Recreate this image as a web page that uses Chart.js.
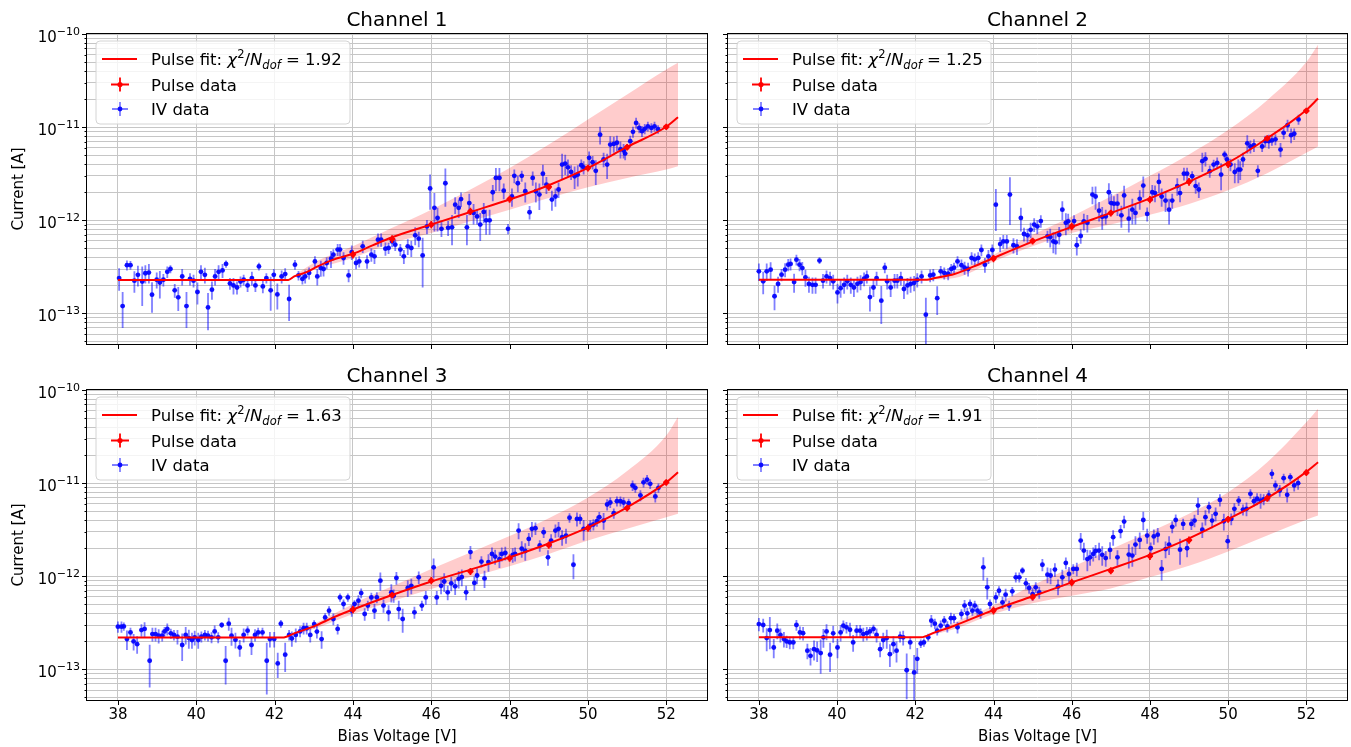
<!DOCTYPE html>
<html>
<head>
<meta charset="utf-8">
<script src="https://cdn.jsdelivr.net/npm/chart.js@4.4.1/dist/chart.umd.min.js"></script>
<style>
  body { margin: 0; background: #fff; width: 1351px; height: 747px; overflow: hidden; position: relative; }
  canvas { position: absolute; }
</style>
</head>
<body>
<canvas id="ch1" width="717" height="355" style="left:0;top:0"></canvas>
<canvas id="ch2" width="634" height="355" style="left:717px;top:0"></canvas>
<canvas id="ch3" width="717" height="392" style="left:0;top:355px"></canvas>
<canvas id="ch4" width="634" height="392" style="left:717px;top:355px"></canvas>
<script>
// currents below are in pA, converted to A when the datasets are built
const PA = 1e-12;

const channelNames = ['Channel 1', 'Channel 2', 'Channel 3', 'Channel 4'];
const chiSquare = ['1.92', '1.25', '1.63', '1.91'];
const xTickValues = [38, 40, 42, 44, 46, 48, 50, 52];
const yTickMantissas = [1, 2, 3, 4, 5, 6, 7, 8, 9];
const yTickExponents = [-14, -13, -12, -11];
const yLabelExponents = [-13, -12, -11, -10];
const xMin = 37.21, xMax = 53.04;
const yMin = 4.7e-14, yMax = 1e-10;

const pulseVoltage = [44, 45, 46, 47, 48, 49, 50, 51, 52];

// ---- Channel 1 ----
const ch1IvVoltage = [
  38.03, 38.12, 38.23, 38.32, 38.42, 38.51, 38.62, 38.70, 38.79, 38.87,
  38.99, 39.07, 39.16, 39.26, 39.34, 39.45, 39.54, 39.64, 39.75, 39.84,
  39.93, 40.03, 40.12, 40.22, 40.30, 40.40, 40.48, 40.57, 40.67, 40.76,
  40.86, 40.95, 41.04, 41.13, 41.21, 41.31, 41.42, 41.51, 41.60, 41.70,
  41.79, 41.90, 41.98, 42.07, 42.18, 42.27, 42.37, 42.52, 42.61, 42.71,
  42.78, 42.88, 43.03, 43.09, 43.18, 43.25, 43.33, 43.44, 43.50, 43.61,
  43.67, 43.76, 43.89, 43.97, 44.08, 44.16, 44.25, 44.36, 44.47, 44.55,
  44.64, 44.72, 44.83, 44.91, 45.00, 45.08, 45.21, 45.30, 45.40, 45.49,
  45.59, 45.68, 45.78, 45.89, 45.97, 46.08, 46.16, 46.26, 46.36, 46.43,
  46.53, 46.61, 46.70, 46.76, 46.91, 46.97, 47.08, 47.17, 47.25, 47.34,
  47.40, 47.49, 47.57, 47.65, 47.74, 47.85, 47.96, 48.06, 48.12, 48.21,
  48.31, 48.40, 48.51, 48.59, 48.67, 48.76, 48.85, 48.94, 49.08, 49.17,
  49.25, 49.34, 49.42, 49.49, 49.57, 49.66, 49.74, 49.83, 49.89, 50.03,
  50.12, 50.20, 50.31, 50.40, 50.49, 50.57, 50.66, 50.74, 50.83, 50.91,
  50.95, 51.08, 51.15, 51.23, 51.31, 51.38, 51.45, 51.53, 51.62, 51.70,
  51.79
];
const ch1IvCurrent = [
  0.24, 0.12, 0.33, 0.33, 0.225, 0.26, 0.22, 0.27, 0.275, 0.159,
  0.23, 0.215, 0.23, 0.28, 0.30, 0.177, 0.149, 0.25, 0.12, 0.235,
  0.225, 0.17, 0.28, 0.26, 0.116, 0.18, 0.25, 0.28, 0.29, 0.34,
  0.21, 0.20, 0.19, 0.22, 0.23, 0.20, 0.24, 0.20, 0.32, 0.195,
  0.24, 0.177, 0.26, 0.16, 0.25, 0.265, 0.143, 0.334, 0.256, 0.235,
  0.25, 0.272, 0.362, 0.25, 0.307, 0.30, 0.348, 0.387, 0.428, 0.485,
  0.485, 0.394, 0.256, 0.456, 0.348, 0.362, 0.525, 0.362, 0.428, 0.41,
  0.62, 0.62, 0.496, 0.504, 0.594, 0.547, 0.485, 0.41, 0.525, 0.504,
  0.69, 0.635, 0.42, 0.86, 2.2, 1.36, 1.06, 0.81, 2.5, 0.83,
  0.84, 1.47, 1.36, 1.69, 0.84, 1.53, 1.2, 1.1, 0.9, 1.23,
  1.0, 1.0, 2.0, 2.85, 2.85, 2.08, 0.81, 1.8, 3.0, 2.5,
  3.0, 2.05, 1.22, 2.85, 2.05, 1.89, 3.16, 2.42, 1.67, 1.8,
  2.14, 3.97, 4.06, 3.7, 3.3, 2.97, 3.1, 3.9, 3.7, 4.68,
  4.2, 3.4, 8.3, 4.5, 3.97, 6.5, 6.6, 6.8, 5.8, 5.6,
  5.2, 7.07, 8.9, 11.1, 9.8, 9.06, 9.6, 10.2, 9.8, 10.2,
  9.5
];
const ch1IvError = [
  0.065, 0.05, 0.04, 0.035, 0.058, 0.065, 0.10, 0.06, 0.065, 0.057,
  0.045, 0.07, 0.035, 0.04, 0.03, 0.03, 0.043, 0.05, 0.05, 0.035,
  0.035, 0.045, 0.05, 0.05, 0.05, 0.04, 0.05, 0.05, 0.05, 0.03,
  0.03, 0.04, 0.03, 0.03, 0.03, 0.03, 0.04, 0.03, 0.03, 0.03,
  0.03, 0.07, 0.04, 0.05, 0.04, 0.04, 0.06, 0.04, 0.03, 0.03,
  0.04, 0.04, 0.05, 0.05, 0.06, 0.05, 0.05, 0.08, 0.06, 0.07,
  0.07, 0.06, 0.04, 0.08, 0.05, 0.05, 0.08, 0.06, 0.07, 0.07,
  0.1, 0.1, 0.08, 0.07, 0.08, 0.08, 0.07, 0.07, 0.1, 0.1,
  0.15, 0.12, 0.23, 0.15, 0.9, 0.6, 0.3, 0.15, 1.1, 0.15,
  0.3, 0.3, 0.3, 0.3, 0.3, 0.4, 0.3, 0.2, 0.3, 0.3,
  0.3, 0.3, 0.4, 0.8, 0.8, 0.4, 0.1, 0.4, 0.5, 0.5,
  0.4, 0.5, 0.2, 0.5, 0.5, 0.6, 0.8, 0.5, 0.4, 0.4,
  0.4, 1.2, 1.0, 0.8, 0.6, 0.8, 0.8, 0.6, 0.6, 0.8,
  0.7, 1.0, 1.8, 0.8, 1.2, 1.5, 1.3, 1.3, 1.2, 1.0,
  0.8, 1.0, 1.2, 1.5, 1.2, 1.2, 1.2, 1.2, 1.2, 1.2,
  1.0
];
const ch1PulseCurrent = [0.43, 0.63, 0.9, 1.25, 1.69, 2.28, 3.65, 6.1, 10.1];
const ch1PulseError = [0.04, 0.06, 0.08, 0.11, 0.15, 0.2, 0.3, 0.5, 0.8];
const ch1FitVoltage = [38, 42.35, 42.5, 42.8, 43.1, 43.5, 44, 44.5, 45, 46, 47, 48, 49, 50, 51, 52, 52.3];
const ch1FitCurrent = [0.229, 0.229, 0.25, 0.276, 0.32, 0.378, 0.437, 0.538, 0.657, 0.90, 1.23, 1.67, 2.38, 3.65, 6.13, 10.1, 12.8];
const ch1BandVoltage = [42.35, 43, 44, 45, 46, 47, 48, 49, 50, 51, 52, 52.3];
const ch1BandUpper = [0.229, 0.348, 0.525, 0.83, 1.3, 2.14, 3.65, 6.5, 12.1, 22.4, 41.6, 49];
const ch1BandLower = [0.229, 0.295, 0.394, 0.57, 0.73, 0.976, 1.3, 1.74, 2.26, 2.85, 3.5, 3.8];

// ---- Channel 2 ----
const ch2IvVoltage = [
  38.00, 38.11, 38.20, 38.30, 38.40, 38.49, 38.58, 38.67, 38.75, 38.81,
  38.90, 38.96, 39.04, 39.11, 39.19, 39.28, 39.37, 39.45, 39.55, 39.64,
  39.73, 39.82, 39.90, 40.01, 40.09, 40.18, 40.26, 40.35, 40.43, 40.52,
  40.60, 40.69, 40.76, 40.84, 40.93, 41.01, 41.13, 41.22, 41.28, 41.37,
  41.47, 41.54, 41.63, 41.71, 41.80, 41.88, 41.97, 42.05, 42.16, 42.27,
  42.38, 42.46, 42.56, 42.65, 42.74, 42.84, 42.92, 42.99, 43.08, 43.18,
  43.26, 43.35, 43.44, 43.52, 43.61, 43.69, 43.78, 43.87, 43.97, 44.06,
  44.17, 44.25, 44.34, 44.42, 44.51, 44.60, 44.70, 44.78, 44.87, 44.95,
  45.04, 45.12, 45.21, 45.38, 45.45, 45.53, 45.59, 45.68, 45.76, 45.85,
  45.91, 46.06, 46.13, 46.23, 46.31, 46.40, 46.53, 46.61, 46.70, 46.78,
  46.87, 46.95, 47.01, 47.08, 47.17, 47.27, 47.34, 47.46, 47.55, 47.63,
  47.74, 47.83, 47.93, 48.06, 48.13, 48.23, 48.30, 48.40, 48.49, 48.57,
  48.70, 48.77, 48.87, 48.95, 49.08, 49.17, 49.25, 49.34, 49.42, 49.53,
  49.63, 49.72, 49.82, 49.91, 49.97, 50.06, 50.17, 50.26, 50.31, 50.38,
  50.49, 50.57, 50.66, 50.76, 50.87, 50.95, 51.04, 51.12, 51.21, 51.34,
  51.42, 51.52, 51.61, 51.69, 51.80
];
const ch2IvCurrent = [
  0.283, 0.221, 0.283, 0.295, 0.153, 0.207, 0.261, 0.295, 0.334, 0.34,
  0.217, 0.378, 0.334, 0.307, 0.244, 0.207, 0.203, 0.203, 0.37, 0.225,
  0.25, 0.24, 0.221, 0.168, 0.187, 0.203, 0.221, 0.203, 0.19, 0.208,
  0.217, 0.236, 0.25, 0.15, 0.19, 0.24, 0.137, 0.31, 0.221, 0.19,
  0.225, 0.225, 0.24, 0.183, 0.2, 0.207, 0.213, 0.23, 0.25, 0.097,
  0.256, 0.261, 0.146, 0.283, 0.272, 0.267, 0.30, 0.31, 0.362, 0.33,
  0.31, 0.30, 0.394, 0.38, 0.394, 0.48, 0.334, 0.41, 0.48, 1.47,
  0.556, 0.594, 0.594, 1.89, 0.54, 0.525, 1.06, 0.713, 0.69, 0.79,
  0.9, 0.86, 0.98, 0.673, 0.66, 0.594, 0.58, 0.70, 1.3, 0.94,
  0.976, 0.98, 0.54, 0.68, 0.976, 0.94, 1.89, 1.8, 1.27, 1.09,
  1.1, 2.0, 1.53, 1.51, 1.51, 1.13, 1.85, 1.04, 1.3, 1.2,
  1.7, 2.36, 1.17, 2.0, 1.96, 2.58, 1.8, 1.63, 1.3, 1.63,
  2.33, 1.96, 3.17, 3.17, 2.97, 2.33, 2.14, 4.31, 4.57, 3.37,
  3.97, 4.13, 3.1, 5.08, 4.5, 3.97, 3.3, 3.5, 3.5, 4.5,
  6.7, 6.2, 6.4, 3.4, 6.2, 7.07, 7.07, 7.2, 7.4, 5.75,
  8.7, 10.5, 8.2, 8.5, 12.1
];
const ch2IvError = [
  0.06, 0.06, 0.06, 0.06, 0.045, 0.04, 0.04, 0.05, 0.05, 0.05,
  0.05, 0.05, 0.05, 0.05, 0.05, 0.04, 0.04, 0.04, 0.03, 0.04,
  0.04, 0.04, 0.04, 0.04, 0.04, 0.04, 0.04, 0.04, 0.04, 0.04,
  0.04, 0.04, 0.04, 0.045, 0.04, 0.04, 0.06, 0.04, 0.04, 0.04,
  0.04, 0.04, 0.04, 0.04, 0.04, 0.04, 0.04, 0.04, 0.04, 0.05,
  0.04, 0.04, 0.05, 0.04, 0.04, 0.04, 0.04, 0.04, 0.05, 0.05,
  0.05, 0.05, 0.06, 0.06, 0.06, 0.07, 0.06, 0.07, 0.07, 0.7,
  0.1, 0.1, 0.1, 1.0, 0.1, 0.1, 0.3, 0.12, 0.12, 0.15,
  0.15, 0.15, 0.15, 0.1, 0.15, 0.15, 0.15, 0.15, 0.3, 0.25,
  0.2, 0.15, 0.12, 0.12, 0.2, 0.2, 0.4, 0.5, 0.3, 0.3,
  0.2, 0.5, 0.4, 0.3, 0.4, 0.3, 0.5, 0.3, 0.4, 0.3,
  0.4, 0.6, 0.2, 0.4, 0.4, 0.6, 0.4, 0.4, 0.4, 0.3,
  0.5, 0.4, 0.5, 0.5, 0.4, 0.4, 0.4, 1.0, 0.8, 0.5,
  0.5, 0.6, 1.0, 0.5, 0.6, 0.6, 0.8, 1.0, 0.8, 0.8,
  1.5, 1.0, 1.0, 0.5, 0.8, 1.0, 1.2, 0.9, 1.0, 1.0,
  1.3, 1.5, 1.5, 1.2, 1.5
];
const ch2PulseCurrent = [0.39, 0.6, 0.86, 1.2, 1.67, 2.6, 4.0, 7.6, 15.0];
const ch2PulseError = [0.035, 0.05, 0.08, 0.1, 0.15, 0.25, 0.35, 0.6, 1.2];
const ch2FitVoltage = [38, 42.3, 42.5, 43, 43.5, 44, 45, 46, 47, 48, 49, 50, 51, 52, 52.3];
const ch2FitCurrent = [0.23, 0.23, 0.24, 0.265, 0.32, 0.394, 0.59, 0.85, 1.2, 1.72, 2.6, 4.15, 7.6, 15.3, 20.3];
const ch2BandVoltage = [42.3, 43, 44, 45, 46, 47, 48, 49, 50, 51, 52, 52.3];
const ch2BandUpper = [0.23, 0.283, 0.428, 0.70, 1.1, 1.8, 3.0, 5.1, 9.3, 19.5, 50, 77];
const ch2BandLower = [0.23, 0.24, 0.362, 0.525, 0.73, 0.9, 1.15, 1.5, 2.1, 3.2, 5.3, 6.2];

// ---- Channel 3 ----
const ch3IvVoltage = [
  38.00, 38.09, 38.15, 38.23, 38.32, 38.40, 38.49, 38.60, 38.68, 38.81,
  38.88, 38.96, 39.04, 39.13, 39.19, 39.26, 39.35, 39.43, 39.52, 39.64,
  39.73, 39.81, 39.89, 39.96, 40.05, 40.13, 40.22, 40.30, 40.39, 40.47,
  40.56, 40.65, 40.75, 40.83, 40.90, 41.00, 41.11, 41.21, 41.31, 41.41,
  41.50, 41.58, 41.69, 41.80, 41.88, 41.99, 42.08, 42.16, 42.27, 42.37,
  42.44, 42.54, 42.65, 42.74, 42.82, 42.91, 43.01, 43.08, 43.20, 43.29,
  43.39, 43.50, 43.61, 43.67, 43.76, 43.87, 43.97, 44.04, 44.14, 44.21,
  44.30, 44.38, 44.47, 44.55, 44.61, 44.70, 44.78, 44.91, 44.98, 45.04,
  45.11, 45.17, 45.27, 45.40, 45.49, 45.57, 45.68, 45.76, 45.86, 46.06,
  46.14, 46.25, 46.33, 46.42, 46.51, 46.61, 46.70, 46.78, 46.89, 47.00,
  47.10, 47.17, 47.28, 47.36, 47.46, 47.55, 47.63, 47.74, 47.80, 47.89,
  48.08, 48.14, 48.23, 48.31, 48.40, 48.49, 48.57, 48.66, 48.77, 48.87,
  48.98, 49.06, 49.17, 49.25, 49.34, 49.44, 49.53, 49.63, 49.72, 49.80,
  49.89, 50.06, 50.14, 50.23, 50.29, 50.40, 50.49, 50.57, 50.66, 50.74,
  50.83, 50.91, 51.04, 51.14, 51.21, 51.34, 51.42, 51.51, 51.59, 51.72,
  51.80
];
const ch3IvCurrent = [
  0.288, 0.288, 0.29, 0.212, 0.25, 0.2, 0.187, 0.265, 0.272, 0.124,
  0.24, 0.24, 0.23, 0.23, 0.256, 0.272, 0.244, 0.235, 0.225, 0.183,
  0.235, 0.217, 0.207, 0.221, 0.207, 0.225, 0.235, 0.23, 0.221, 0.256,
  0.221, 0.30, 0.124, 0.31, 0.23, 0.208, 0.172, 0.235, 0.261, 0.183,
  0.235, 0.25, 0.25, 0.124, 0.212, 0.212, 0.116, 0.31, 0.144, 0.235,
  0.215, 0.235, 0.256, 0.277, 0.277, 0.235, 0.307, 0.255, 0.212, 0.362,
  0.428, 0.348, 0.272, 0.594, 0.504, 0.594, 0.428, 0.504, 0.547, 0.66,
  0.394, 0.485, 0.594, 0.428, 0.594, 0.898, 0.485, 0.41, 0.673, 0.62,
  0.96, 0.445, 0.348, 0.75, 0.79, 0.41, 0.976, 0.485, 0.594, 1.25,
  0.594, 0.79, 0.88, 0.673, 0.84, 0.78, 0.94, 0.98, 0.673, 1.82,
  0.85, 1.02, 1.44, 0.95, 1.42, 1.74, 1.63, 1.53, 1.74, 1.78,
  1.7, 1.74, 3.1, 1.98, 1.87, 2.52, 3.23, 3.28, 2.14, 2.97,
  1.6, 2.42, 3.1, 3.23, 2.63, 2.74, 4.25, 1.33, 4.13, 4.13,
  3.23, 3.5, 3.6, 3.9, 4.31, 3.97, 5.9, 6.2, 4.75, 6.4,
  6.4, 6.2, 6.1, 9.45, 8.9, 7.4, 10.2, 10.9, 9.84, 7.2,
  8.9
];
const ch3IvError = [
  0.04, 0.04, 0.03, 0.05, 0.03, 0.04, 0.04, 0.04, 0.05, 0.06,
  0.04, 0.04, 0.04, 0.03, 0.03, 0.04, 0.03, 0.03, 0.04, 0.06,
  0.05, 0.05, 0.04, 0.04, 0.04, 0.03, 0.03, 0.03, 0.03, 0.04,
  0.03, 0.02, 0.055, 0.05, 0.05, 0.04, 0.035, 0.04, 0.03, 0.04,
  0.035, 0.03, 0.03, 0.07, 0.04, 0.04, 0.035, 0.03, 0.05, 0.03,
  0.04, 0.04, 0.035, 0.04, 0.04, 0.04, 0.03, 0.04, 0.045, 0.04,
  0.05, 0.05, 0.035, 0.06, 0.06, 0.06, 0.06, 0.05, 0.08, 0.08,
  0.06, 0.06, 0.07, 0.08, 0.08, 0.2, 0.08, 0.08, 0.15, 0.1,
  0.15, 0.1, 0.1, 0.15, 0.15, 0.06, 0.15, 0.06, 0.1, 0.3,
  0.1, 0.15, 0.2, 0.12, 0.15, 0.15, 0.2, 0.2, 0.12, 0.3,
  0.15, 0.2, 0.2, 0.2, 0.3, 0.3, 0.3, 0.3, 0.3, 0.3,
  0.3, 0.3, 0.6, 0.4, 0.4, 0.4, 0.6, 0.5, 0.3, 0.4,
  0.3, 0.4, 0.5, 0.6, 0.5, 0.5, 0.5, 0.4, 0.7, 0.5,
  0.8, 0.5, 0.5, 0.5, 0.6, 0.8, 0.8, 0.8, 0.6, 0.8,
  0.8, 0.8, 0.7, 1.2, 1.0, 1.0, 1.2, 1.3, 1.2, 1.0,
  1.0
];
const ch3PulseCurrent = [0.44, 0.63, 0.9, 1.13, 1.57, 2.17, 3.3, 5.4, 10.2];
const ch3PulseError = [0.04, 0.05, 0.08, 0.1, 0.14, 0.2, 0.3, 0.45, 0.8];
const ch3FitVoltage = [38, 42.2, 42.5, 43, 43.5, 44, 45, 46, 47, 48, 49, 50, 51, 52, 52.3];
const ch3FitCurrent = [0.22, 0.22, 0.244, 0.29, 0.362, 0.44, 0.63, 0.88, 1.18, 1.6, 2.25, 3.35, 5.5, 10.2, 13.1];
const ch3BandVoltage = [42.2, 43, 44, 45, 46, 47, 48, 49, 50, 51, 52, 52.3];
const ch3BandUpper = [0.22, 0.307, 0.504, 0.78, 1.2, 1.8, 2.7, 4.2, 7.0, 13.5, 32.5, 51.3];
const ch3BandLower = [0.22, 0.272, 0.394, 0.54, 0.73, 0.98, 1.28, 1.74, 2.42, 3.23, 4.31, 4.68];

// ---- Channel 4 ----
const ch4IvVoltage = [
  38.00, 38.11, 38.20, 38.28, 38.38, 38.47, 38.55, 38.64, 38.71, 38.79,
  38.88, 38.96, 39.05, 39.13, 39.24, 39.32, 39.41, 39.49, 39.58, 39.65,
  39.73, 39.82, 39.90, 40.01, 40.09, 40.16, 40.24, 40.33, 40.41, 40.50,
  40.59, 40.67, 40.76, 40.84, 40.93, 41.01, 41.10, 41.18, 41.27, 41.35,
  41.44, 41.52, 41.61, 41.69, 41.78, 41.87, 41.97, 42.05, 42.14, 42.22,
  42.33, 42.41, 42.50, 42.56, 42.65, 42.74, 42.82, 42.91, 42.99, 43.08,
  43.18, 43.26, 43.33, 43.40, 43.46, 43.52, 43.59, 43.67, 43.74, 43.84,
  43.91, 44.06, 44.14, 44.23, 44.31, 44.40, 44.48, 44.57, 44.66, 44.74,
  44.83, 44.91, 45.00, 45.08, 45.17, 45.25, 45.38, 45.46, 45.57, 45.65,
  45.76, 45.85, 45.93, 46.04, 46.13, 46.23, 46.31, 46.40, 46.47, 46.55,
  46.61, 46.70, 46.78, 46.87, 46.98, 47.06, 47.17, 47.25, 47.34, 47.46,
  47.55, 47.63, 47.74, 47.83, 47.93, 48.02, 48.10, 48.20, 48.30, 48.40,
  48.49, 48.57, 48.66, 48.77, 48.85, 48.95, 49.06, 49.14, 49.23, 49.34,
  49.42, 49.51, 49.59, 49.68, 49.79, 49.89, 49.99, 50.08, 50.16, 50.27,
  50.38, 50.47, 50.57, 50.66, 50.74, 50.83, 50.91, 51.04, 51.12, 51.21,
  51.32, 51.42, 51.51, 51.59, 51.69, 51.79
];
const ch4IvCurrent = [
  0.307, 0.30, 0.217, 0.265, 0.172, 0.261, 0.235, 0.212, 0.2, 0.195,
  0.195, 0.30, 0.25, 0.245, 0.159, 0.14, 0.165, 0.16, 0.15, 0.221,
  0.256, 0.144, 0.244, 0.172, 0.25, 0.295, 0.283, 0.267, 0.195, 0.261,
  0.261, 0.24, 0.245, 0.256, 0.272, 0.235, 0.165, 0.207, 0.217, 0.146,
  0.187, 0.159, 0.225, 0.221, 0.098, 0.195, 0.093, 0.13, 0.19, 0.195,
  0.221, 0.334, 0.31, 0.261, 0.295, 0.334, 0.29, 0.355, 0.355, 0.283,
  0.394, 0.485, 0.40, 0.504, 0.428, 0.485, 0.428, 0.40, 1.25, 0.762,
  0.504, 0.594, 0.70, 0.525, 0.635, 0.485, 0.69, 0.976, 0.976, 1.15,
  0.84, 0.75, 0.645, 0.762, 0.673, 1.33, 1.04, 1.02, 1.18, 0.775,
  0.976, 1.39, 1.06, 1.2, 1.2, 2.42, 1.89, 1.53, 1.6, 1.74,
  1.87, 1.89, 1.7, 1.57, 1.92, 2.63, 1.6, 3.06, 3.87, 1.71,
  1.67, 2.19, 2.46, 4.02, 2.74, 2.0, 2.68, 2.8, 1.2, 1.96,
  2.19, 3.4, 4.02, 1.93, 3.65, 2.0, 3.65, 3.97, 5.75, 3.17,
  4.31, 5.52, 3.97, 4.68, 6.6, 3.9, 2.38, 4.13, 5.3, 6.5,
  5.2, 5.3, 7.68, 6.4, 6.8, 6.5, 6.7, 7.37, 12.6, 9.45,
  8.34, 11.3, 7.5, 11.6, 9.45, 10.0
];
const ch4IvError = [
  0.05, 0.05, 0.06, 0.1, 0.04, 0.05, 0.04, 0.04, 0.03, 0.03,
  0.03, 0.04, 0.04, 0.04, 0.03, 0.03, 0.04, 0.04, 0.06, 0.05,
  0.05, 0.05, 0.05, 0.04, 0.05, 0.04, 0.04, 0.05, 0.04, 0.04,
  0.04, 0.04, 0.04, 0.03, 0.03, 0.04, 0.03, 0.04, 0.05, 0.04,
  0.04, 0.04, 0.03, 0.04, 0.05, 0.03, 0.05, 0.04, 0.02, 0.02,
  0.02, 0.05, 0.04, 0.03, 0.04, 0.04, 0.04, 0.05, 0.04, 0.04,
  0.05, 0.07, 0.06, 0.06, 0.05, 0.06, 0.06, 0.05, 0.35, 0.2,
  0.06, 0.08, 0.08, 0.08, 0.1, 0.06, 0.08, 0.12, 0.12, 0.1,
  0.12, 0.1, 0.1, 0.1, 0.1, 0.2, 0.2, 0.2, 0.2, 0.15,
  0.2, 0.2, 0.2, 0.15, 0.2, 0.5, 0.4, 0.4, 0.3, 0.3,
  0.3, 0.4, 0.4, 0.3, 0.4, 0.5, 0.3, 0.5, 0.6, 0.5,
  0.4, 0.5, 0.5, 0.9, 0.5, 0.3, 0.5, 0.5, 0.3, 0.4,
  0.5, 0.5, 0.6, 0.6, 0.5, 0.4, 0.5, 0.6, 1.2, 0.6,
  0.8, 0.8, 0.7, 0.8, 1.0, 0.8, 0.4, 0.6, 0.8, 0.8,
  0.7, 0.9, 0.9, 0.8, 1.0, 1.2, 0.9, 1.0, 1.5, 1.2,
  1.2, 1.3, 1.3, 1.2, 1.3, 1.5
];
const ch4PulseCurrent = [0.43, 0.6, 0.86, 1.15, 1.65, 2.45, 4.1, 6.9, 13.0];
const ch4PulseError = [0.04, 0.05, 0.08, 0.1, 0.15, 0.22, 0.35, 0.6, 1.1];
const ch4FitVoltage = [38, 42.15, 42.5, 43, 44, 45, 46, 47, 48, 49, 50, 51, 52, 52.3];
const ch4FitCurrent = [0.221, 0.221, 0.25, 0.295, 0.435, 0.61, 0.86, 1.2, 1.7, 2.55, 4.1, 6.9, 13.2, 16.8];
const ch4BandVoltage = [42.15, 43, 44, 45, 46, 47, 48, 49, 50, 51, 52, 52.3];
const ch4BandUpper = [0.221, 0.32, 0.485, 0.8, 1.25, 1.95, 3.0, 4.7, 8.0, 16.8, 45, 63];
const ch4BandLower = [0.221, 0.272, 0.394, 0.515, 0.62, 0.74, 0.98, 1.3, 1.85, 2.74, 4.05, 4.5];

const ivVoltageError = 0.055;
const pulseVoltageError = 0.08;

const FONT = '"DejaVu Sans", "Liberation Sans", sans-serif';
const gridColor = '#c6c6c6';

// y ticks: every mantissa of every decade inside the range, plus the top decade
const yTicks = [];
yTickExponents.forEach(e => {
  yTickMantissas.forEach(m => {
    const v = parseFloat(m + 'e' + e);
    if (v >= yMin) yTicks.push({ value: v, major: m === 1 });
  });
});
yTicks.push({ value: yMax, major: true });

function toPoints(xs, ys) {
  return xs.map((x, i) => ({ x: x, y: ys[i] * PA }));
}

function richText(ctx, x, y, parts) {
  parts.forEach(p => {
    ctx.font = (p.italic ? 'italic ' : '') + p.size + 'px ' + FONT;
    ctx.fillText(p.text, x, y + (p.dy || 0));
    x += ctx.measureText(p.text).width;
  });
  return x;
}

function cross(ctx, x, y, hw, hh, barColor, dotColor, r) {
  ctx.strokeStyle = barColor;
  ctx.lineWidth = 1.8;
  ctx.beginPath();
  ctx.moveTo(x, y - hh); ctx.lineTo(x, y + hh);
  ctx.moveTo(x - hw, y); ctx.lineTo(x + hw, y);
  ctx.stroke();
  ctx.fillStyle = dotColor;
  ctx.beginPath(); ctx.arc(x, y, r, 0, Math.PI * 2); ctx.fill();
}

function drawLegend(ctx, a, chi) {
  const x0 = a.left + 9, y0 = a.top + 7, w = 254, h = 83, r = 4;
  ctx.save();
  ctx.beginPath();
  ctx.moveTo(x0 + r, y0);
  ctx.arcTo(x0 + w, y0, x0 + w, y0 + h, r);
  ctx.arcTo(x0 + w, y0 + h, x0, y0 + h, r);
  ctx.arcTo(x0, y0 + h, x0, y0, r);
  ctx.arcTo(x0, y0, x0 + w, y0, r);
  ctx.closePath();
  ctx.fillStyle = 'rgba(255,255,255,0.8)';
  ctx.fill();
  ctx.strokeStyle = '#d4d4d4';
  ctx.lineWidth = 1;
  ctx.stroke();

  const rows = [y0 + 18, y0 + 43.5, y0 + 68];
  const hx = x0 + 24;
  ctx.strokeStyle = '#ff0000';
  ctx.lineWidth = 2;
  ctx.beginPath(); ctx.moveTo(x0 + 6, rows[0]); ctx.lineTo(x0 + 41, rows[0]); ctx.stroke();
  cross(ctx, hx, rows[1], 9, 7, '#ff0000', '#ff0000', 2.6);
  cross(ctx, hx, rows[2], 8, 7, 'rgba(0,0,255,0.5)', 'rgba(0,0,255,0.9)', 2.4);

  ctx.fillStyle = '#000';
  ctx.textAlign = 'left';
  ctx.textBaseline = 'alphabetic';
  const tx = x0 + 55;
  richText(ctx, tx, rows[0] + 6, [
    { text: 'Pulse fit: ', size: 16.5 },
    { text: '\u03c7', size: 16.5, italic: true },
    { text: '2', size: 11.5, dy: -7 },
    { text: '/', size: 16.5 },
    { text: 'N', size: 16.5, italic: true },
    { text: 'dof', size: 11.5, italic: true, dy: 3.5 },
    { text: ' = ' + chi, size: 16.5 }
  ]);
  richText(ctx, tx, rows[1] + 6, [{ text: 'Pulse data', size: 16.5 }]);
  richText(ctx, tx, rows[2] + 6, [{ text: 'IV data', size: 16.5 }]);
  ctx.restore();
}

const decor = {
  id: 'decor',
  beforeDatasetDraw(chart, args) {
    const ds = chart.data.datasets[args.index];
    if (!ds.errors) return;
    const ctx = chart.ctx, a = chart.chartArea;
    const xs = chart.scales.x, ys = chart.scales.y;
    ctx.save();
    ctx.beginPath();
    ctx.rect(a.left, a.top, a.right - a.left, a.bottom - a.top);
    ctx.clip();
    ctx.strokeStyle = ds.barColor;
    ctx.lineWidth = 1.8;
    ds.data.forEach((p, i) => {
      const e = ds.errors[i] * PA;
      const px = xs.getPixelForValue(p.x), py = ys.getPixelForValue(p.y);
      const top = ys.getPixelForValue(p.y + e);
      const low = p.y - e > 0 ? ys.getPixelForValue(p.y - e) : a.bottom + 20;
      ctx.beginPath();
      ctx.moveTo(px, top); ctx.lineTo(px, Math.min(low, a.bottom + 20));
      ctx.moveTo(xs.getPixelForValue(p.x - ds.xErr), py);
      ctx.lineTo(xs.getPixelForValue(p.x + ds.xErr), py);
      ctx.stroke();
    });
    ctx.restore();
  },
  afterDraw(chart, args, opts) {
    const ctx = chart.ctx, a = chart.chartArea;
    const xs = chart.scales.x, ys = chart.scales.y;
    ctx.save();
    // frame
    ctx.strokeStyle = '#000';
    ctx.lineWidth = 1;
    ctx.strokeRect(Math.round(a.left) - 0.5, Math.round(a.top) - 0.5,
      Math.round(a.right - a.left) + 1, Math.round(a.bottom - a.top) + 1);
    // tick marks
    ctx.beginPath();
    xTickValues.forEach(v => {
      const px = Math.round(xs.getPixelForValue(v)) + 0.5;
      ctx.moveTo(px, a.bottom); ctx.lineTo(px, a.bottom + 5);
    });
    yTicks.forEach(t => {
      const py = Math.round(ys.getPixelForValue(t.value)) + 0.5;
      ctx.moveTo(a.left, py); ctx.lineTo(a.left - (t.major ? 5 : 2.5), py);
    });
    ctx.stroke();

    ctx.fillStyle = '#000';
    // y tick labels  10^-n
    if (opts.yLabels) {
      yLabelExponents.forEach(e => {
        const py = ys.getPixelForValue(parseFloat('1e' + e));
        const base = py + 7.5;
        ctx.font = '15px ' + FONT;
        const w1 = ctx.measureText('10').width;
        ctx.font = '11px ' + FONT;
        const sup = '\u2212' + Math.abs(e);
        const w2 = ctx.measureText(sup).width;
        const x0 = a.left - 7 - w1 - w2;
        ctx.textAlign = 'left';
        ctx.textBaseline = 'alphabetic';
        ctx.font = '15px ' + FONT;
        ctx.fillText('10', x0, base);
        ctx.font = '11px ' + FONT;
        ctx.fillText(sup, x0 + w1, base - 6.5);
      });
      ctx.save();
      ctx.translate(a.left - 64, (a.top + a.bottom) / 2);
      ctx.rotate(-Math.PI / 2);
      ctx.font = '15px ' + FONT;
      ctx.textAlign = 'center';
      ctx.fillText('Current [A]', 0, 0);
      ctx.restore();
    }
    if (opts.xLabels) {
      ctx.font = '15px ' + FONT;
      ctx.textAlign = 'center';
      ctx.textBaseline = 'top';
      xTickValues.forEach(v => {
        ctx.fillText(String(v), xs.getPixelForValue(v), a.bottom + 7.5);
      });
      ctx.textBaseline = 'alphabetic';
      ctx.fillText('Bias Voltage [V]', (a.left + a.right) / 2, a.bottom + 41);
    }
    // title
    ctx.font = '20px ' + FONT;
    ctx.textAlign = 'center';
    ctx.textBaseline = 'alphabetic';
    ctx.fillText(opts.title, (a.left + a.right) / 2, a.top - 8);
    ctx.restore();

    drawLegend(ctx, a, opts.chi);
  }
};

function makePanel(id, idx, d, layout) {
  return new Chart(document.getElementById(id), {
    type: 'scatter',
    data: {
      datasets: [
        { data: toPoints(d.fitV, d.fitI), showLine: true, borderColor: '#ff0000', borderWidth: 2,
          pointRadius: 0, cubicInterpolationMode: 'monotone' },
        { data: toPoints(pulseVoltage, d.pulseI), errors: d.pulseE, xErr: pulseVoltageError,
          barColor: '#ff0000', pointRadius: 2.6, backgroundColor: '#ff0000', borderWidth: 0 },
        { data: toPoints(d.ivV, d.ivI), errors: d.ivE, xErr: ivVoltageError,
          barColor: 'rgba(0,0,255,0.5)', pointRadius: 2.4, backgroundColor: 'rgba(0,0,255,0.9)', borderWidth: 0 },
        { data: toPoints(d.bandV, d.bandHi), showLine: true, fill: '+1', backgroundColor: 'rgba(255,0,0,0.2)',
          borderColor: 'rgba(0,0,0,0)', borderWidth: 0, pointRadius: 0, cubicInterpolationMode: 'monotone' },
        { data: toPoints(d.bandV, d.bandLo), showLine: true, borderColor: 'rgba(0,0,0,0)', borderWidth: 0,
          pointRadius: 0, cubicInterpolationMode: 'monotone' }
      ]
    },
    options: {
      responsive: false,
      animation: false,
      events: [],
      layout: { padding: { left: 0, right: layout.padRight, top: layout.padTop, bottom: 0 } },
      plugins: {
        legend: { display: false },
        tooltip: { enabled: false },
        decor: { title: channelNames[idx], chi: chiSquare[idx], yLabels: layout.yLabels, xLabels: layout.xLabels }
      },
      scales: {
        x: {
          type: 'linear', min: xMin, max: xMax,
          afterBuildTicks: s => { s.ticks = xTickValues.map(v => ({ value: v })); },
          afterFit: s => { s.height = layout.xHeight; },
          grid: { color: gridColor, lineWidth: 1, drawTicks: false },
          border: { display: false },
          ticks: { display: false }
        },
        y: {
          type: 'logarithmic', min: yMin, max: yMax,
          afterBuildTicks: s => { s.ticks = yTicks.map(t => ({ value: t.value, major: t.major })); },
          afterFit: s => { s.width = layout.yWidth; },
          grid: { color: gridColor, lineWidth: 1, drawTicks: false },
          border: { display: false },
          ticks: { display: false }
        }
      }
    },
    plugins: [decor]
  });
}

makePanel('ch1', 0, {
  ivV: ch1IvVoltage, ivI: ch1IvCurrent, ivE: ch1IvError, pulseI: ch1PulseCurrent, pulseE: ch1PulseError,
  fitV: ch1FitVoltage, fitI: ch1FitCurrent, bandV: ch1BandVoltage, bandHi: ch1BandUpper, bandLo: ch1BandLower
}, { padTop: 34, padRight: 10, yWidth: 87, xHeight: 11, yLabels: true, xLabels: false });

makePanel('ch2', 1, {
  ivV: ch2IvVoltage, ivI: ch2IvCurrent, ivE: ch2IvError, pulseI: ch2PulseCurrent, pulseE: ch2PulseError,
  fitV: ch2FitVoltage, fitI: ch2FitCurrent, bandV: ch2BandVoltage, bandHi: ch2BandUpper, bandLo: ch2BandLower
}, { padTop: 34, padRight: 4, yWidth: 11, xHeight: 11, yLabels: false, xLabels: false });

makePanel('ch3', 2, {
  ivV: ch3IvVoltage, ivI: ch3IvCurrent, ivE: ch3IvError, pulseI: ch3PulseCurrent, pulseE: ch3PulseError,
  fitV: ch3FitVoltage, fitI: ch3FitCurrent, bandV: ch3BandVoltage, bandHi: ch3BandUpper, bandLo: ch3BandLower
}, { padTop: 35, padRight: 10, yWidth: 87, xHeight: 47, yLabels: true, xLabels: true });

makePanel('ch4', 3, {
  ivV: ch4IvVoltage, ivI: ch4IvCurrent, ivE: ch4IvError, pulseI: ch4PulseCurrent, pulseE: ch4PulseError,
  fitV: ch4FitVoltage, fitI: ch4FitCurrent, bandV: ch4BandVoltage, bandHi: ch4BandUpper, bandLo: ch4BandLower
}, { padTop: 35, padRight: 4, yWidth: 11, xHeight: 47, yLabels: false, xLabels: true });
</script>
</body>
</html>
